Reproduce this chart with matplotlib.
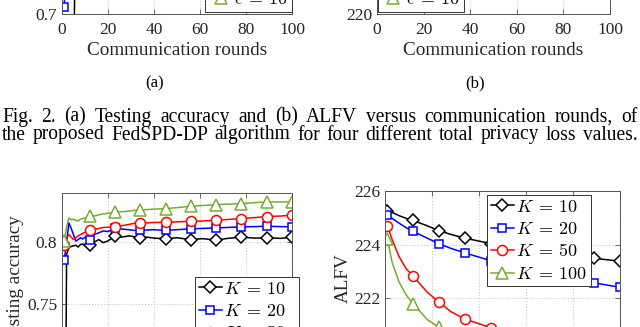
import matplotlib
matplotlib.use('Agg')
import matplotlib.pyplot as plt
from matplotlib.ticker import FuncFormatter

plt.rcParams['font.family'] = ['Liberation Serif', 'DejaVu Serif']
plt.rcParams['mathtext.fontset'] = 'cm'

W, H = 640, 327

# ---------------- data ----------------
# (a) testing accuracy vs rounds, four privacy budgets (mostly cropped away)
eps_labels = [r'$\epsilon\:=\:1$', r'$\epsilon\:=\:2$', r'$\epsilon\:=\:5$', r'$\epsilon\:=\:10$']
rounds_a = [1, 2, 3, 4, 5, 6, 12, 23, 34, 45, 56, 67, 78, 89, 100]
acc_eps1 = [0.45, 0.50, 0.55, 0.60, 0.65, 0.78, 0.79, 0.795, 0.80, 0.80, 0.80, 0.80, 0.80, 0.80, 0.80]
acc_eps2 = [0.705, 0.80, 0.805, 0.806, 0.807, 0.808, 0.81, 0.81, 0.81, 0.81, 0.81, 0.81, 0.81, 0.81, 0.81]
acc_eps5 = [0.79, 0.81, 0.812, 0.813, 0.814, 0.815, 0.816, 0.817, 0.818, 0.818, 0.819, 0.819, 0.82, 0.82, 0.82]
acc_eps10 = [0.80, 0.815, 0.818, 0.819, 0.82, 0.82, 0.822, 0.824, 0.825, 0.826, 0.827, 0.828, 0.829, 0.83, 0.83]

# (b) ALFV vs rounds, four privacy budgets (mostly cropped away)
rounds_b = [1, 12, 23, 34, 45, 56, 67, 78, 89, 100]
alfv_eps1 = [236, 235, 234.5, 234, 233.5, 233, 232.5, 232, 231.5, 231]
alfv_eps2 = [235, 233, 232, 231, 230, 229.5, 229, 228.5, 228, 227.5]
alfv_eps5 = [234, 231, 229, 228, 227, 226.5, 226, 225.5, 225, 224.8]
alfv_eps10 = [233, 229, 227, 226, 225.2, 224.8, 224.4, 224.2, 224, 223.8]

# Fig. 3 left: testing accuracy for different K
K_labels = [r'$K\:=\:10$', r'$K\:=\:20$', r'$K\:=\:50$', r'$K\:=\:100$']
rounds_acc = [1, 2, 3, 4, 5, 6, 7, 8, 9, 10, 12, 14, 16, 18, 20, 23, 26, 29, 31, 34,
              37, 40, 45, 50, 56, 61, 67, 72, 78, 84, 89, 95, 100]
acc_K10 = [0.50, 0.790, 0.7955, 0.7965, 0.797, 0.7975, 0.796, 0.798, 0.7985, 0.797,
           0.7979, 0.8000, 0.8020, 0.7995, 0.8010, 0.8048, 0.8040, 0.8050, 0.8045, 0.8035,
           0.8040, 0.8032, 0.8027, 0.8035, 0.8020, 0.8028, 0.8016, 0.8030, 0.8040, 0.8032,
           0.8035, 0.8030, 0.8040]
acc_K20 = [0.7856, 0.800, 0.8155, 0.811, 0.806, 0.8008, 0.802, 0.8035, 0.8025, 0.804,
           0.8013, 0.806, 0.8075, 0.809, 0.8085, 0.8115, 0.8105, 0.8100, 0.8095, 0.8094,
           0.8098, 0.8100, 0.8094, 0.8100, 0.8107, 0.8110, 0.8115, 0.8118, 0.8123, 0.8125,
           0.8128, 0.8125, 0.8123]
acc_K50 = [0.7973, 0.803, 0.806, 0.804, 0.802, 0.8035, 0.805, 0.806, 0.807, 0.808,
           0.8094, 0.8100, 0.8110, 0.8118, 0.8120, 0.8123, 0.8132, 0.8142, 0.8150, 0.8155,
           0.8155, 0.8158, 0.8160, 0.8163, 0.8168, 0.8170, 0.8176, 0.8182, 0.8190, 0.8198,
           0.8206, 0.8210, 0.8217]
acc_K100 = [0.8008, 0.812, 0.8195, 0.818, 0.8185, 0.8175, 0.817, 0.8185, 0.819, 0.8195,
            0.8209, 0.8210, 0.8220, 0.8228, 0.8232, 0.8241, 0.8245, 0.8250, 0.8255, 0.8259,
            0.8262, 0.8266, 0.8270, 0.8278, 0.8289, 0.8295, 0.8302, 0.8306, 0.8310, 0.8318,
            0.8324, 0.8324, 0.8324]

# Fig. 3 right: ALFV for different K
rounds_alfv = [1, 3, 6, 9, 12, 18, 23, 28, 34, 45, 56, 67, 78, 89, 100]
alfv_K10 = [225.27, 225.20, 225.08, 224.98, 224.90, 224.70, 224.52, 224.38, 224.24, 224.04,
            223.90, 223.76, 223.62, 223.49, 223.38]
alfv_K20 = [225.11, 224.98, 224.80, 224.63, 224.49, 224.24, 224.03, 223.86, 223.69, 223.40,
            223.17, 222.95, 222.75, 222.57, 222.41]
alfv_K50 = [224.71, 224.20, 223.55, 223.10, 222.82, 222.22, 221.85, 221.50, 221.22, 220.90,
            220.62, 220.42, 220.28, 220.18, 220.12]
alfv_K100 = [224.21, 223.35, 222.60, 222.12, 221.79, 221.20, 220.91, 220.68, 220.50, 220.30,
             220.20, 220.12, 220.08, 220.05, 220.03]

marker_rounds = [1, 12, 23, 34, 45, 56, 67, 78, 89, 100]

caption1 = "Fig. 2.  (a) Testing accuracy and (b) ALFV versus communication rounds, of"
caption2 = "the proposed FedSPD-DP algorithm for four different total privacy loss values."

# ---------------- style ----------------
colors = ['black', 'blue', 'red', '#77AC30']
markers = ['D', 's', 'o', '^']
msizes = [6.2, 6.0, 7.2, 8.0]
TICK_FS = 12.5
LABEL_FS = 13.8
LEG_FS = 13
SPINE_C = '#555555'
TEXT_C = '#262626'

fig = plt.figure(figsize=(W / 100, H / 100), dpi=100)


def fx(px):
    return px / W


def fy(py):
    return 1 - py / H


def make_ax(left_px, right_px, top_px, bottom_px):
    ax = fig.add_axes([fx(left_px), fy(bottom_px), (right_px - left_px) / W,
                       (bottom_px - top_px) / H])
    for s in ax.spines.values():
        s.set_color(SPINE_C)
        s.set_linewidth(0.7)
    ax.tick_params(direction='in', top=True, right=True, length=3.5, width=0.6,
                   colors=SPINE_C, labelcolor=TEXT_C, labelsize=TICK_FS)
    ax.tick_params(axis='x', pad=6)
    ax.tick_params(axis='y', pad=3.5)
    ax.grid(True, color='#c8c8c8', linestyle=':', linewidth=0.8)
    ax.set_xlim(0, 100)
    ax.set_xticks([0, 20, 40, 60, 80, 100])
    ax.yaxis.set_major_formatter(FuncFormatter(lambda v, p: '%g' % v))
    return ax


def plot_series(ax, x, ys, labels):
    for i, (y, lab) in enumerate(zip(ys, labels)):
        idx = [x.index(r) for r in marker_rounds if r in x]
        ax.plot(x, y, color=colors[i], lw=1.1, marker=markers[i], ms=msizes[i],
                mfc='white', mew=1.1, markevery=idx, label=lab, clip_on=True)


def add_legend(ax, loc, anchor_px):
    leg = ax.legend(loc=loc, bbox_to_anchor=(fx(anchor_px[0]), fy(anchor_px[1])),
                    bbox_transform=fig.transFigure, fontsize=LEG_FS, frameon=True,
                    fancybox=False, framealpha=1, edgecolor='#333333', borderpad=0.2,
                    handlelength=1.3, handletextpad=0.1, labelspacing=0.3,
                    borderaxespad=0)
    leg.get_frame().set_linewidth(0.7)
    return leg


# ---- (a) top-left (cropped) ----
axa = make_ax(62, 292, 14 - 200, 14)
axa.set_ylim(0.7, 0.85)
axa.set_yticks([0.7, 0.75, 0.8, 0.85])
plot_series(axa, rounds_a, [acc_eps1, acc_eps2, acc_eps5, acc_eps10], eps_labels)
add_legend(axa, 'lower right', (292, 11.5))
axa.set_xlabel('Communication rounds', fontsize=LABEL_FS, color=TEXT_C)
axa.xaxis.set_label_coords(0.5, -(55 - 14) / 200)
axa.xaxis.label.set_verticalalignment('baseline')

# ---- (b) top-right (cropped) ----
axb = make_ax(377, 610, 13.5 - 200, 13.5)
axb.set_ylim(220, 240)
axb.set_yticks([220, 225, 230, 235, 240])
plot_series(axb, rounds_b, [alfv_eps1, alfv_eps2, alfv_eps5, alfv_eps10], eps_labels)
add_legend(axb, 'lower left', (377.5, 12))
axb.set_xlabel('Communication rounds', fontsize=LABEL_FS, color=TEXT_C)
axb.xaxis.set_label_coords(0.5, -(55 - 13.5) / 200)
axb.xaxis.label.set_verticalalignment('baseline')

fig.text(fx(155), fy(87), '(a)', fontsize=12.1, ha='center', va='baseline', color='black')
fig.text(fx(475), fy(87), '(b)', fontsize=12.1, ha='center', va='baseline', color='black')

# ---- caption (justified) ----
fig.canvas.draw()
renderer = fig.canvas.get_renderer()
X0, X1 = 2, 637.5

natural = []
for line in (caption1, caption2):
    probe = fig.text(0, 0, line, fontsize=12)
    natural.append(probe.get_window_extent(renderer).width)
    probe.remove()
cap_fs = 12 * (X1 - X0) / max(natural) * 0.97


def justify(line, base_px, fs):
    words = [w for w in line.split(' ') if w]
    texts = [fig.text(0, fy(base_px), w, fontsize=fs, va='baseline', ha='left') for w in words]
    widths = [t.get_window_extent(renderer).width for t in texts]
    gap = (X1 - X0 - sum(widths)) / (len(words) - 1)
    x = X0
    for t, w in zip(texts, widths):
        t.set_x(fx(x))
        x += w + gap


justify(caption1, 121.7, cap_fs)
justify(caption2, 139.5, cap_fs)

# ---- Fig. 3 left: testing accuracy ----
ax3 = make_ax(62, 292, 192.5, 192.5 + 0.14 * 1240)
ax3.set_ylim(0.7, 0.84)
ax3.set_yticks([0.7, 0.75, 0.8])
plot_series(ax3, rounds_acc, [acc_K10, acc_K20, acc_K50, acc_K100], K_labels)
add_legend(ax3, 'upper left', (195, 277))
ax3.set_ylabel('Testing accuracy', fontsize=LABEL_FS, color=TEXT_C)
ax3.yaxis.set_label_coords((24 - 62) / 230, 0.5)

# ---- Fig. 3 right: ALFV ----
ax4 = make_ax(385, 620, 191, 191 + 6 * 26.8)
ax4.set_ylim(220, 226)
ax4.set_yticks([220, 222, 224, 226])
plot_series(ax4, rounds_alfv, [alfv_K10, alfv_K20, alfv_K50, alfv_K100], K_labels)
add_legend(ax4, 'upper left', (487, 195))
ax4.set_ylabel('ALFV', fontsize=LABEL_FS, color=TEXT_C)
ax4.yaxis.set_label_coords((352 - 385) / 235, 1 - (278 - 191) / (6 * 26.8))

fig.savefig('out.png', dpi=100)
